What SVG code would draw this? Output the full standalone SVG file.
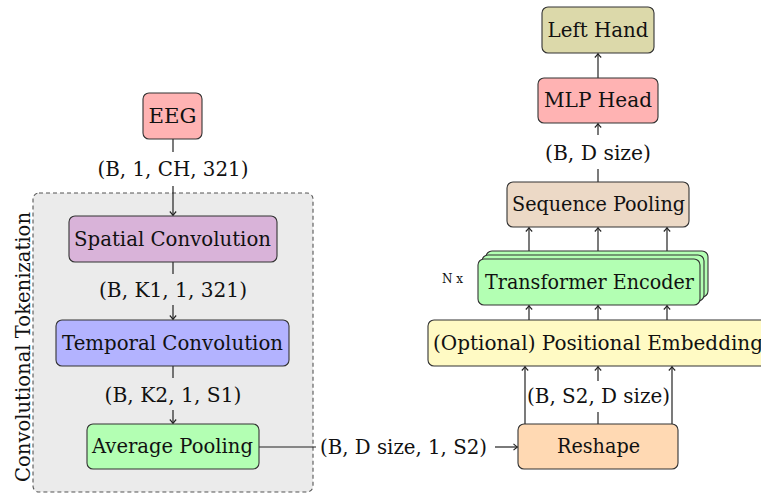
<svg xmlns="http://www.w3.org/2000/svg" width="761" height="495" viewBox="0 0 761 495">
<style>
.box{stroke:#333;stroke-width:1.1}
.t{font-family:"DejaVu Serif","Liberation Serif",serif;font-size:20px;fill:#111;text-anchor:middle}
.s{font-family:"DejaVu Serif","Liberation Serif",serif;font-size:12px;fill:#111;text-anchor:middle}
.c{stroke:#222;stroke-width:1.2;fill:none}
.a{stroke:#222;stroke-width:1.2;fill:none;marker-end:url(#ah)}
</style>
<defs>
<marker id="ah" markerUnits="userSpaceOnUse" viewBox="-5 -5 7 10" markerWidth="7" markerHeight="10" refX="0" refY="0" orient="auto">
<path d="M-3.5,-3.2 Q-1,-0.8 0.6,0 Q-1,0.8 -3.5,3.2" fill="none" stroke="#222" stroke-width="1.1"/>
</marker>
</defs>
<rect width="761" height="495" fill="#fff"/>
<g id="tokenizer-group">
<rect x="33" y="193" width="280" height="299" rx="6" fill="#ebebeb" stroke="#555" stroke-width="1.1" stroke-dasharray="4,3"/>
<text class="t" transform="translate(30,347) rotate(-90)" textLength="270" lengthAdjust="spacingAndGlyphs">Convolutional Tokenization</text>
</g>
<g id="connectors">
<line class="c" x1="173" y1="139" x2="173" y2="152"/>
<line class="a" x1="173" y1="186" x2="173" y2="215"/>
<line class="c" x1="173" y1="262" x2="173" y2="274"/>
<line class="a" x1="173" y1="305" x2="173" y2="319"/>
<line class="c" x1="173" y1="366" x2="173" y2="378"/>
<line class="a" x1="173" y1="410" x2="173" y2="423"/>
<line class="c" x1="259" y1="447" x2="316" y2="447" stroke="#555"/>
<line class="a" x1="495" y1="447" x2="517" y2="447"/>
<line class="a" x1="525" y1="424" x2="525" y2="367"/>
<line class="a" x1="672" y1="424" x2="672" y2="367"/>
<line class="c" x1="598" y1="424" x2="598" y2="412"/>
<line class="a" x1="598" y1="381" x2="598" y2="367"/>
<line class="a" x1="529" y1="320" x2="529" y2="306"/>
<line class="a" x1="598" y1="320" x2="598" y2="306"/>
<line class="a" x1="667" y1="320" x2="667" y2="306"/>
<line class="a" x1="529" y1="251" x2="529" y2="228"/>
<line class="a" x1="598" y1="251" x2="598" y2="228"/>
<line class="a" x1="667" y1="251" x2="667" y2="228"/>
<line class="c" x1="598" y1="182" x2="598" y2="169"/>
<line class="a" x1="598" y1="135" x2="598" y2="124"/>
<line class="a" x1="598" y1="78" x2="598" y2="54"/>
<text class="t" x="173" y="176" textLength="151" lengthAdjust="spacingAndGlyphs">(B, 1, CH, 321)</text>
<text class="t" x="173" y="297" textLength="148" lengthAdjust="spacingAndGlyphs">(B, K1, 1, 321)</text>
<text class="t" x="173" y="402" textLength="137" lengthAdjust="spacingAndGlyphs">(B, K2, 1, S1)</text>
<text class="t" x="403.5" y="454" textLength="167" lengthAdjust="spacingAndGlyphs">(B, D size, 1, S2)</text>
<text class="t" x="598.5" y="403" textLength="143" lengthAdjust="spacingAndGlyphs">(B, S2, D size)</text>
<text class="t" x="598" y="160" textLength="106" lengthAdjust="spacingAndGlyphs">(B, D size)</text>
</g>
<g id="eeg">
<rect class="box" x="143" y="93" width="59" height="46" rx="6" fill="#ffb3b3"/>
<text class="t" x="172.5" y="123" textLength="48" lengthAdjust="spacingAndGlyphs">EEG</text>
</g>
<g id="spatial-convolution">
<rect class="box" x="69" y="216" width="208" height="46" rx="6" fill="#d9b3d9"/>
<text class="t" x="172.5" y="246" textLength="197" lengthAdjust="spacingAndGlyphs">Spatial Convolution</text>
</g>
<g id="temporal-convolution">
<rect class="box" x="56" y="320" width="233" height="46" rx="6" fill="#b3b3ff"/>
<text class="t" x="172.5" y="350" textLength="221" lengthAdjust="spacingAndGlyphs">Temporal Convolution</text>
</g>
<g id="average-pooling">
<rect class="box" x="87" y="424" width="172" height="45" rx="6" fill="#b3ffb3"/>
<text class="t" x="172.5" y="453" textLength="161" lengthAdjust="spacingAndGlyphs">Average Pooling</text>
</g>
<g id="reshape">
<rect class="box" x="518" y="424" width="160" height="45" rx="6" fill="#ffd9b3"/>
<text class="t" x="598.5" y="453" textLength="83" lengthAdjust="spacingAndGlyphs">Reshape</text>
</g>
<g id="positional-embedding">
<rect class="box" x="428" y="320" width="340" height="46" rx="6" fill="#fffac4"/>
<text class="t" x="598" y="350" textLength="330" lengthAdjust="spacingAndGlyphs">(Optional) Positional Embedding</text>
</g>
<g id="transformer-encoder">
<rect class="box" x="486" y="251" width="222" height="46" rx="6" fill="#b3ffb3"/>
<rect class="box" x="482" y="255" width="222" height="46" rx="6" fill="#b3ffb3"/>
<rect class="box" x="478" y="259" width="222" height="46" rx="6" fill="#b3ffb3"/>
<text class="t" x="589.5" y="289" textLength="209" lengthAdjust="spacingAndGlyphs">Transformer Encoder</text>
<text class="s" x="452.5" y="283">N x</text>
</g>
<g id="sequence-pooling">
<rect class="box" x="507" y="182" width="182" height="45" rx="6" fill="#ecd9c6"/>
<text class="t" x="598.5" y="211" textLength="173" lengthAdjust="spacingAndGlyphs">Sequence Pooling</text>
</g>
<g id="mlp-head">
<rect class="box" x="538" y="78" width="120" height="45" rx="6" fill="#ffb3b3"/>
<text class="t" x="598" y="107" textLength="108" lengthAdjust="spacingAndGlyphs">MLP Head</text>
</g>
<g id="left-hand">
<rect class="box" x="542" y="7" width="112" height="46" rx="6" fill="#dcd9aa"/>
<text class="t" x="598" y="37" textLength="101" lengthAdjust="spacingAndGlyphs">Left Hand</text>
</g>
</svg>
